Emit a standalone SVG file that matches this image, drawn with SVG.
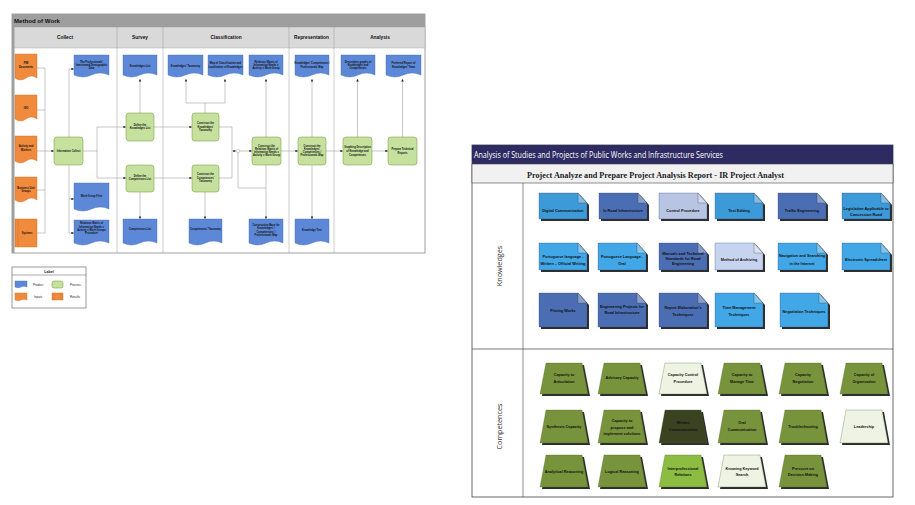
<svg xmlns="http://www.w3.org/2000/svg" xmlns:xlink="http://www.w3.org/1999/xlink" width="915" height="505" viewBox="0 0 915 505">
<style>
.doc{fill:#5d88d8;stroke:#4469ad;stroke-width:0.4}
.proc{fill:#c6e19d;stroke:#6f9236;stroke-width:0.5}
.inp{fill:#f08a3c;stroke:#c9651d;stroke-width:0.4}
.t{font-family:"Liberation Sans",Arial,sans-serif;font-size:2.6px;font-weight:bold;text-anchor:middle;fill:#111}
.hdr{font-family:"Liberation Sans",Arial,sans-serif;font-size:4.8px;font-weight:bold;text-anchor:middle;fill:#111}
.cn{fill:none;stroke:#8f8f8f;stroke-width:0.5}
.ar{marker-end:url(#ah)}
.lg{font-family:"Liberation Sans",Arial,sans-serif;font-size:3px;fill:#222}
.kt{font-family:"Liberation Sans",Arial,sans-serif;font-size:3.8px;font-weight:bold;text-anchor:middle;fill:#111}
.sh{fill:#2e2e2e}
.fold{fill:#ffffff;fill-opacity:0.35;stroke:#333;stroke-width:0.3}
.kc{stroke:#2d3f66;stroke-width:0.3}
.cc{stroke:#4a5e24;stroke-width:0.3}
.ol{fill:#77933c}
.li{fill:#eef3e3}
.dk{fill:#3a4222}
.br{fill:#8cbc42}
.rl{font-family:"Open Sans","Liberation Sans",sans-serif;font-size:7.2px;fill:#333;text-anchor:middle}
</style>
<defs>
<marker id="ah" viewBox="0 0 6 6" refX="6" refY="3" markerWidth="2.6" markerHeight="2.6" markerUnits="userSpaceOnUse" orient="auto"><path d="M0,0 L6,3 L0,6 Z" fill="#222"/></marker>
<path id="k26" d="M0,0 H39 L48,10 V26 H0 Z"/>
<path id="k27" d="M0,0 H39 L48,10 V27 H0 Z"/>
<path id="k34" d="M0,0 H39 L48,10 V34 H0 Z"/>
<path id="kf" d="M39,0 V10 H48 Z"/>
<path id="c31" d="M6,0 H42 L48,31 H0 Z"/>
<path id="c33" d="M6,0 H42 L48,33 H0 Z"/>
<path id="c32" d="M6,0 H42 L48,32 H0 Z"/>
</defs>
<rect width="915" height="505" fill="#ffffff"/>

<!-- ===== Left diagram: Method of Work ===== -->
<g id="method-frame">
<rect x="12" y="14" width="413" height="239" fill="#ffffff" stroke="#8a8a8a" stroke-width="0.8"/>
<rect x="12" y="14" width="413" height="13" fill="#9e9e9e"/>
<rect x="12" y="14" width="2.5" height="239" fill="#9e9e9e"/>
<text x="14" y="23.2" font-family="Liberation Sans,Arial,sans-serif" font-size="6.1" font-weight="bold" fill="#111">Method of Work</text>
<rect x="14.5" y="27" width="410.5" height="21" fill="#d9d9d9" stroke="#9a9a9a" stroke-width="0.4"/>
<g stroke="#9a9a9a" stroke-width="0.5">
<line x1="117" y1="27" x2="117" y2="253"/>
<line x1="163" y1="27" x2="163" y2="253"/>
<line x1="289" y1="27" x2="289" y2="253"/>
<line x1="334" y1="27" x2="334" y2="253"/>
</g>
<text class="hdr" x="65" y="39.3">Collect</text>
<text class="hdr" x="140" y="39.3">Survey</text>
<text class="hdr" x="226" y="39.3">Classification</text>
<text class="hdr" x="311.5" y="39.3">Representation</text>
<text class="hdr" x="380" y="39.3">Analysis</text>
</g>

<g id="connectors-left">
<path class="cn" d="M37,68 H45 M37,110 H45 M37,190 H45 M37,233 H45 M45,68 V233"/>
<path class="cn ar" d="M37,151 H54"/>
<path class="cn ar" d="M69,137 V69 H74"/>
<path class="cn" d="M69,165 V233"/>
<path class="cn ar" d="M69,199 H74"/>
<path class="cn ar" d="M69,233 H74"/>
<path class="cn" d="M83,151 H97 M97,127 V178"/>
<path class="cn ar" d="M97,127 H126"/>
<path class="cn ar" d="M97,178 H126"/>
<path class="cn ar" d="M140,113 V79"/>
<path class="cn ar" d="M140,192 V219"/>
<path class="cn ar" d="M154,127 H192"/>
<path class="cn ar" d="M154,178 H192"/>
<path class="cn" d="M205,113 V103 M186,103 H225"/>
<path class="cn ar" d="M186,103 V79"/>
<path class="cn ar" d="M225,103 V79"/>
<path class="cn ar" d="M205,192 V219"/>
<path class="cn" d="M219,127 H232 V178 H219"/>
<path class="cn ar" d="M232,151 H236"/>
<circle cx="238" cy="151" r="1.8" fill="#ffffff" stroke="#8f8f8f" stroke-width="0.4"/>
<path class="cn ar" d="M239.8,151 H252"/>
<path class="cn" d="M238,152.8 V188 H266"/>
<path class="cn ar" d="M266,137 V79"/>
<path class="cn ar" d="M266,165 V219"/>
<path class="cn ar" d="M281,151 H298"/>
<path class="cn ar" d="M312,137 V79"/>
<path class="cn ar" d="M312,165 V219"/>
<path class="cn ar" d="M326,151 H343"/>
<path class="cn ar" d="M357.5,137 V79"/>
<path class="cn ar" d="M372,151 H388"/>
<path class="cn ar" d="M402.5,137 V79"/>
</g>

<!-- Inputs -->
<g id="in-pmi"><path class="inp" d="M15,54 H37 V78 Q31.5,74 26,78 T15,78 Z"/><text class="t" x="26" y="64.2">PMI</text><text class="t" x="26" y="68.2">Documents</text></g>
<g id="in-iso"><path class="inp" d="M15,95 H37 V119 Q31.5,115 26,119 T15,119 Z"/><text class="t" x="26" y="108.6">ISO</text></g>
<g id="in-activity"><path class="inp" d="M15,136 H37 V161 Q31.5,157 26,161 T15,161 Z"/><text class="t" x="26" y="147.4">Activity and</text><text class="t" x="26" y="150.9">Workers</text></g>
<g id="in-business"><path class="inp" d="M15,177 H37 V200 Q31.5,196 26,200 T15,200 Z"/><text class="t" x="26" y="188.6">Business Unit</text><text class="t" x="26" y="192.4">Groups</text></g>
<g id="in-systems"><rect class="inp" x="15" y="219" width="22" height="28"/><line x1="18" y1="219" x2="18" y2="247" stroke="#c9651d" stroke-width="0.4"/><text class="t" x="27" y="234.2">Systems</text></g>

<!-- Collect -->
<g id="p-info-collect"><rect class="proc" x="54" y="137" width="29" height="28" rx="3"/><text class="t" x="68.5" y="151.9">Information Collect</text></g>
<g id="d-prof-data"><path class="doc" d="M74,55 H109 V75 Q100.25,71 91.5,75 T74,75 Z"/><text class="t" x="91.5" y="62.6">The Professionals'</text><text class="t" x="91.5" y="65.9">Interviewed Demographic</text><text class="t" x="91.5" y="69.2">Data</text></g>
<g id="d-work-group-files"><path class="doc" d="M74,183 H109 V209 Q100.25,205 91.5,209 T74,209 Z"/><text class="t" x="91.5" y="196.9">Work Group Files</text></g>
<g id="d-relations-procedure"><path class="doc" d="M74,220 H109 V243 Q100.25,239 91.5,243 T74,243 Z"/><text class="t" x="91.5" y="224.2">Relations Matrix of</text><text class="t" x="91.5" y="227.6">Information Needs x</text><text class="t" x="91.5" y="230.9">Activity x Work Groups</text><text class="t" x="91.5" y="234.2">Procedure</text></g>

<!-- Survey -->
<g id="d-knowledges-list"><path class="doc" d="M123,55 H157 V75 Q148.5,71 140,75 T123,75 Z"/><text class="t" x="140" y="66.6">Knowledges List</text></g>
<g id="p-define-knowledges"><rect class="proc" x="126" y="113" width="28" height="28" rx="3"/><text class="t" x="140" y="125.9">Define the</text><text class="t" x="140" y="129.4">Knowledges List</text></g>
<g id="p-define-competences"><rect class="proc" x="126" y="165" width="28" height="27" rx="3"/><text class="t" x="140" y="176.9">Define the</text><text class="t" x="140" y="180.2">Competences List</text></g>
<g id="d-competences-list"><path class="doc" d="M123,219 H157 V243 Q148.5,239 140,243 T123,243 Z"/><text class="t" x="140" y="230.2">Competences List</text></g>

<!-- Classification -->
<g id="d-knowledges-taxonomy"><path class="doc" d="M168,55 H203 V75 Q194.25,71 185.5,75 T168,75 Z"/><text class="t" x="185.5" y="66.6">Knowledges' Taxonomy</text></g>
<g id="d-map-classification"><path class="doc" d="M208,55 H243 V75 Q234.25,71 225.5,75 T208,75 Z"/><text class="t" x="225.5" y="64.2">Map of Classification and</text><text class="t" x="225.5" y="67.6">Localization of Knowledges</text></g>
<g id="d-relations-matrix"><path class="doc" d="M249,55 H283 V75 Q274.5,71 266,75 T249,75 Z"/><text class="t" x="266" y="62.6">Relations Matrix of</text><text class="t" x="266" y="65.9">Information Needs x</text><text class="t" x="266" y="69.2">Activity x Work Group</text></g>
<g id="p-construct-ktax"><rect class="proc" x="192" y="113" width="27" height="28" rx="3"/><text class="t" x="205.5" y="124.2">Construct the</text><text class="t" x="205.5" y="127.6">Knowledges'</text><text class="t" x="205.5" y="130.9">Taxonomy</text></g>
<g id="p-construct-ctax"><rect class="proc" x="192" y="165" width="27" height="27" rx="3"/><text class="t" x="205.5" y="175.2">Construct the</text><text class="t" x="205.5" y="178.6">Competences'</text><text class="t" x="205.5" y="181.9">Taxonomy</text></g>
<g id="d-competences-taxonomy"><path class="doc" d="M189,219 H222 V243 Q213.75,239 205.5,243 T189,243 Z"/><text class="t" x="205.5" y="230.2">Competences' Taxonomy</text></g>
<g id="p-construct-relations"><rect class="proc" x="252" y="137" width="29" height="28" rx="3"/><text class="t" x="266.5" y="146.7">Construct the</text><text class="t" x="266.5" y="149.9">Relations Matrix of</text><text class="t" x="266.5" y="153.1">Information Needs x</text><text class="t" x="266.5" y="156.3">Activity x Work Group</text></g>
<g id="d-construction-base"><path class="doc" d="M249,219 H283 V243 Q274.5,239 266,243 T249,243 Z"/><text class="t" x="266" y="225.9">Construction Base for</text><text class="t" x="266" y="229.2">Knowledges' /</text><text class="t" x="266" y="232.6">Competences' /</text><text class="t" x="266" y="236">Professionals Map</text></g>

<!-- Representation -->
<g id="d-kc-map"><path class="doc" d="M295,55 H329 V75 Q320.5,71 312,75 T295,75 Z"/><text class="t" x="312" y="64">Knowledges' Competences /</text><text class="t" x="312" y="67.6">Professionals Map</text></g>
<g id="p-construct-map"><rect class="proc" x="298" y="137" width="28" height="28" rx="3"/><text class="t" x="312" y="146.7">Construct the</text><text class="t" x="312" y="149.9">Knowledges'</text><text class="t" x="312" y="153.1">Competences /</text><text class="t" x="312" y="156.3">Professionals Map</text></g>
<g id="d-knowledge-tree"><path class="doc" d="M295,219 H329 V243 Q320.5,239 312,243 T295,243 Z"/><text class="t" x="312" y="230.9">Knowledge Tree</text></g>

<!-- Analysis -->
<g id="d-descriptive"><path class="doc" d="M341,55 H375 V75 Q366.5,71 358,75 T341,75 Z"/><text class="t" x="358" y="62.6">Descriptive graphs of</text><text class="t" x="358" y="65.9">Knowledges and</text><text class="t" x="358" y="69.2">Competences</text></g>
<g id="d-preferred"><path class="doc" d="M386,55 H421 V75 Q412.25,71 403.5,75 T386,75 Z"/><text class="t" x="403.5" y="64.2">Preferred Report of</text><text class="t" x="403.5" y="67.9">Knowledges' Team</text></g>
<g id="p-graphing"><rect class="proc" x="343" y="137" width="29" height="28" rx="3"/><text class="t" x="357.5" y="147.6">Graphing Description</text><text class="t" x="357.5" y="151.6">of Knowledge and</text><text class="t" x="357.5" y="155.6">Competences</text></g>
<g id="p-prepare"><rect class="proc" x="388" y="137" width="29" height="28" rx="3"/><text class="t" x="402.5" y="150.2">Prepare Technical</text><text class="t" x="402.5" y="154.2">Reports</text></g>

<!-- Legend -->
<g id="legend">
<rect x="12" y="267" width="74" height="41" fill="#ffffff" stroke="#555" stroke-width="0.6"/>
<line x1="12" y1="275" x2="86" y2="275" stroke="#555" stroke-width="0.5"/>
<text x="49" y="273" font-family="Liberation Sans,Arial,sans-serif" font-size="3.6" font-weight="bold" text-anchor="middle" fill="#111">Label</text>
<path class="doc" d="M15,281 H27 V287 Q24,285.5 21,287 T15,287 Z"/>
<text class="lg" x="33" y="285.6">Product</text>
<rect class="proc" x="52" y="281" width="11" height="7" rx="2"/>
<text class="lg" x="70" y="285.6">Process</text>
<path class="inp" d="M15,293 H27 V300 Q24,298.5 21,300 T15,300 Z"/>
<text class="lg" x="34" y="298" font-size="2.6">Inputs</text>
<rect class="inp" x="52" y="293" width="11" height="7"/>
<line x1="54" y1="293" x2="54" y2="300" stroke="#c9651d" stroke-width="0.4"/>
<line x1="61" y1="293" x2="61" y2="300" stroke="#c9651d" stroke-width="0.4"/>
<text class="lg" x="70" y="298" font-size="2.6">Results</text>
</g>

<!-- ===== Right diagram ===== -->
<g id="analysis-frame">
<rect x="472" y="145" width="421" height="352" fill="#ffffff" stroke="#444" stroke-width="0.8"/>
<rect x="472" y="145" width="421" height="19" fill="#2e2b62"/>
<text x="474" y="158.2" font-family="Open Sans,Liberation Sans,sans-serif" font-size="8.3" fill="#ffffff" textLength="249" lengthAdjust="spacingAndGlyphs">Analysis of Studies and Projects of Public Works and Infrastructure Services</text>
<rect x="472" y="164" width="421" height="19" fill="#f1f1f1" stroke="#444" stroke-width="0.6"/>
<text x="655.5" y="178" font-family="Liberation Serif,serif" font-size="8.6" font-weight="bold" fill="#222" text-anchor="middle" textLength="257" lengthAdjust="spacingAndGlyphs">Project Analyze and Prepare Project Analysis Report - IR Project Analyst</text>
<line x1="523" y1="183" x2="523" y2="497" stroke="#444" stroke-width="0.6"/>
<line x1="472" y1="349" x2="893" y2="349" stroke="#444" stroke-width="0.7"/>
<text class="rl" transform="translate(501.5,266) rotate(-90)">Knowledges</text>
<text class="rl" transform="translate(501.5,426.5) rotate(-90)">Competences</text>
</g>

<!-- Knowledges row 1 -->
<g id="k-digital-communication" transform="translate(539,193)"><use href="#k26" class="sh" x="2" y="2"/><use href="#k26" class="kc" fill="#3d9ad8"/><use href="#kf" class="fold"/><text class="kt" x="24" y="19.3">Digital Communication</text></g>
<g id="k-road-infrastructure" transform="translate(599,193)"><use href="#k26" class="sh" x="2" y="2"/><use href="#k26" class="kc" fill="#4a6db3"/><use href="#kf" class="fold"/><text class="kt" x="24" y="19.3">In Road Infrastructure</text></g>
<g id="k-control-procedure" transform="translate(659,193)"><use href="#k26" class="sh" x="2" y="2"/><use href="#k26" class="kc" fill="#b7c5e3"/><use href="#kf" class="fold"/><text class="kt" x="24" y="19.3">Control Procedure</text></g>
<g id="k-text-editing" transform="translate(715,193)"><use href="#k26" class="sh" x="2" y="2"/><use href="#k26" class="kc" fill="#3d9ad8"/><use href="#kf" class="fold"/><text class="kt" x="24" y="19.3">Text Editing</text></g>
<g id="k-traffic-engineering" transform="translate(778,193)"><use href="#k26" class="sh" x="2" y="2"/><use href="#k26" class="kc" fill="#4a6db3"/><use href="#kf" class="fold"/><text class="kt" x="24" y="19.3">Traffic Engineering</text></g>
<g id="k-legislation" transform="translate(842,193)"><use href="#k26" class="sh" x="2" y="2"/><use href="#k26" class="kc" fill="#3d9ad8"/><use href="#kf" class="fold"/><text class="kt" x="24" y="16.6" textLength="45" lengthAdjust="spacingAndGlyphs">Legislation Applicable to</text><text class="kt" x="24" y="23.2">Concession Road</text></g>

<!-- Knowledges row 2 -->
<g id="k-portuguese-written" transform="translate(539,243)"><use href="#k27" class="sh" x="2" y="2"/><use href="#k27" class="kc" fill="#42a7e6"/><use href="#kf" class="fold"/><text class="kt" x="24" y="14.5">Portuguese language -</text><text class="kt" x="24" y="21.5" textLength="45" lengthAdjust="spacingAndGlyphs">Written – Official Writing</text></g>
<g id="k-portuguese-oral" transform="translate(598,243)"><use href="#k27" class="sh" x="2" y="2"/><use href="#k27" class="kc" fill="#42a7e6"/><use href="#kf" class="fold"/><text class="kt" x="24" y="14.5">Portuguese Language -</text><text class="kt" x="24" y="21.5">Oral</text></g>
<g id="k-manuals" transform="translate(659,243)"><use href="#k27" class="sh" x="2" y="2"/><use href="#k27" class="kc" fill="#4a6db3"/><use href="#kf" class="fold"/><text class="kt" x="24" y="12.3">Manuals and Technical</text><text class="kt" x="24" y="17.3">Standards for Road</text><text class="kt" x="24" y="22.3">Engineering</text></g>
<g id="k-archiving" transform="translate(715,243)"><use href="#k27" class="sh" x="2" y="2"/><use href="#k27" class="kc" fill="#c7d4ef"/><use href="#kf" class="fold"/><text class="kt" x="24" y="18.3">Method of Archiving</text></g>
<g id="k-navigation" transform="translate(778,243)"><use href="#k27" class="sh" x="2" y="2"/><use href="#k27" class="kc" fill="#42a7e6"/><use href="#kf" class="fold"/><text class="kt" x="24" y="14.3" textLength="46" lengthAdjust="spacingAndGlyphs">Navigation and Searching</text><text class="kt" x="24" y="21.5">in the Internet</text></g>
<g id="k-spreadsheet" transform="translate(842,243)"><use href="#k27" class="sh" x="2" y="2"/><use href="#k27" class="kc" fill="#42a7e6"/><use href="#kf" class="fold"/><text class="kt" x="24" y="18.3">Electronic Spreadsheet</text></g>

<!-- Knowledges row 3 -->
<g id="k-pricing" transform="translate(539,293)"><use href="#k34" class="sh" x="2" y="2"/><use href="#k34" class="kc" fill="#4a6db3"/><use href="#kf" class="fold"/><text class="kt" x="24" y="19">Pricing Works</text></g>
<g id="k-engineering-projects" transform="translate(598,293)"><use href="#k34" class="sh" x="2" y="2"/><use href="#k34" class="kc" fill="#4a6db3"/><use href="#kf" class="fold"/><text class="kt" x="24" y="14.5">Engineering Projects for</text><text class="kt" x="24" y="21">Road Infrastructure</text></g>
<g id="k-report-elaboration" transform="translate(659,293)"><use href="#k34" class="sh" x="2" y="2"/><use href="#k34" class="kc" fill="#4a6db3"/><use href="#kf" class="fold"/><text class="kt" x="24" y="16">Report Elaboration's</text><text class="kt" x="24" y="22.5">Techniques</text></g>
<g id="k-time-management" transform="translate(715,293)"><use href="#k34" class="sh" x="2" y="2"/><use href="#k34" class="kc" fill="#42a7e6"/><use href="#kf" class="fold"/><text class="kt" x="24" y="16.3">Time Management</text><text class="kt" x="24" y="23">Techniques</text></g>
<g id="k-negotiation" transform="translate(780,293)"><use href="#k34" class="sh" x="2" y="2"/><use href="#k34" class="kc" fill="#42a7e6"/><use href="#kf" class="fold"/><text class="kt" x="24" y="20">Negotiation Techniques</text></g>

<!-- Competences row 1 -->
<g id="c-articulation" transform="translate(540,363)"><use href="#c31" class="sh" x="2" y="2"/><use href="#c31" class="cc ol"/><text class="kt" x="24" y="13.3">Capacity to</text><text class="kt" x="24" y="20">Articulation</text></g>
<g id="c-advisory" transform="translate(598,363)"><use href="#c31" class="sh" x="2" y="2"/><use href="#c31" class="cc ol"/><text class="kt" x="24" y="16.3">Advisory Capacity</text></g>
<g id="c-control-procedure" transform="translate(659,363)"><use href="#c31" class="sh" x="2" y="2"/><use href="#c31" class="cc li"/><text class="kt" x="24" y="13.3">Capacity Control</text><text class="kt" x="24" y="20">Procedure</text></g>
<g id="c-manage-time" transform="translate(718,363)"><use href="#c31" class="sh" x="2" y="2"/><use href="#c31" class="cc ol"/><text class="kt" x="24" y="13.3">Capacity to</text><text class="kt" x="24" y="20">Manage Time</text></g>
<g id="c-negotiation" transform="translate(779,363)"><use href="#c31" class="sh" x="2" y="2"/><use href="#c31" class="cc ol"/><text class="kt" x="24" y="13.3">Capacity</text><text class="kt" x="24" y="20">Negotiation</text></g>
<g id="c-organization" transform="translate(840,363)"><use href="#c31" class="sh" x="2" y="2"/><use href="#c31" class="cc ol"/><text class="kt" x="24" y="13.3">Capacity of</text><text class="kt" x="24" y="20">Organization</text></g>

<!-- Competences row 2 -->
<g id="c-synthesis" transform="translate(540,410)"><use href="#c33" class="sh" x="2" y="2"/><use href="#c33" class="cc ol"/><text class="kt" x="24" y="18.3">Synthesis Capacity</text></g>
<g id="c-propose" transform="translate(598,410)"><use href="#c33" class="sh" x="2" y="2"/><use href="#c33" class="cc ol"/><text class="kt" x="24" y="12.3">Capacity to</text><text class="kt" x="24" y="18.6">propose and</text><text class="kt" x="24" y="24.6">implement solutions</text></g>
<g id="c-written" transform="translate(659,410)"><use href="#c33" class="sh" x="2" y="2"/><use href="#c33" class="cc dk"/><text class="kt" x="24" y="14.3" fill="#1e2212">Written</text><text class="kt" x="24" y="21.3" fill="#1e2212">Communication</text></g>
<g id="c-oral" transform="translate(718,410)"><use href="#c33" class="sh" x="2" y="2"/><use href="#c33" class="cc ol"/><text class="kt" x="24" y="14.3">Oral</text><text class="kt" x="24" y="21.3">Communication</text></g>
<g id="c-troubleshooting" transform="translate(779,410)"><use href="#c33" class="sh" x="2" y="2"/><use href="#c33" class="cc ol"/><text class="kt" x="24" y="18.3">Troubleshooting</text></g>
<g id="c-leadership" transform="translate(840,410)"><use href="#c33" class="sh" x="2" y="2"/><use href="#c33" class="cc li"/><text class="kt" x="24" y="18.3">Leadership</text></g>

<!-- Competences row 3 -->
<g id="c-analytical" transform="translate(540,455)"><use href="#c32" class="sh" x="2" y="2"/><use href="#c32" class="cc ol"/><text class="kt" x="24" y="18">Analytical Reasoning</text></g>
<g id="c-logical" transform="translate(598,455)"><use href="#c32" class="sh" x="2" y="2"/><use href="#c32" class="cc ol"/><text class="kt" x="24" y="18">Logical Reasoning</text></g>
<g id="c-interprofessional" transform="translate(659,455)"><use href="#c32" class="sh" x="2" y="2"/><use href="#c32" class="cc br"/><text class="kt" x="24" y="14.6">Interprofessional</text><text class="kt" x="24" y="21.3">Relations</text></g>
<g id="c-keyword-search" transform="translate(718,455)"><use href="#c32" class="sh" x="2" y="2"/><use href="#c32" class="cc li"/><text class="kt" x="24" y="14.6">Knowing Keyword</text><text class="kt" x="24" y="21.3">Search</text></g>
<g id="c-pressure" transform="translate(779,455)"><use href="#c32" class="sh" x="2" y="2"/><use href="#c32" class="cc ol"/><text class="kt" x="24" y="14.6">Pressure on</text><text class="kt" x="24" y="21.3">Decision-Making</text></g>
</svg>
